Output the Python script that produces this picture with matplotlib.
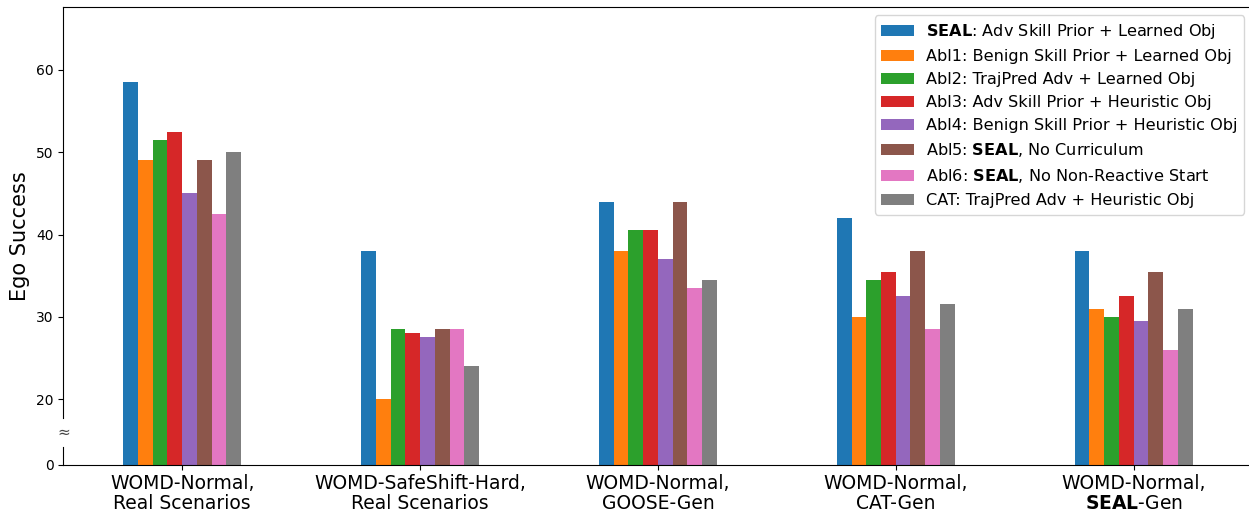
import numpy as np
import matplotlib
matplotlib.use('Agg')
import matplotlib.pyplot as plt

groups = ['WOMD-Normal,\nReal Scenarios',
          'WOMD-SafeShift-Hard,\nReal Scenarios',
          'WOMD-Normal,\nGOOSE-Gen',
          'WOMD-Normal,\nCAT-Gen',
          'WOMD-Normal,\n$\\mathbf{SEAL}$-Gen']

methods = ['$\\mathbf{SEAL}$: Adv Skill Prior + Learned Obj',
           'Abl1: Benign Skill Prior + Learned Obj',
           'Abl2: TrajPred Adv + Learned Obj',
           'Abl3: Adv Skill Prior + Heuristic Obj',
           'Abl4: Benign Skill Prior + Heuristic Obj',
           'Abl5: $\\mathbf{SEAL}$, No Curriculum',
           'Abl6: $\\mathbf{SEAL}$, No Non-Reactive Start',
           'CAT: TrajPred Adv + Heuristic Obj']

seal = [58.5, 38, 44, 42, 38]
abl1 = [49, 20, 38, 30, 31]
abl2 = [51.5, 28.5, 40.5, 34.5, 30]
abl3 = [52.5, 28, 40.5, 35.5, 32.5]
abl4 = [45, 27.5, 37, 32.5, 29.5]
abl5 = [49, 28.5, 44, 38, 35.5]
abl6 = [42.5, 28.5, 33.5, 28.5, 26]
cat = [50, 24, 34.5, 31.5, 31]
series = [seal, abl1, abl2, abl3, abl4, abl5, abl6, cat]

# the axis is broken: 0..20 is squeezed into the strip below 20
base = 12
ytick_vals = [12, 20, 30, 40, 50, 60]
ytick_labels = ['0', '20', '30', '40', '50', '60']

fig = plt.figure(figsize=(12.49, 5.12), dpi=100)
ax = fig.add_axes([63.3/1249, 47/512, 1189.2/1249, 457.7/512])

x = np.arange(len(groups))
w = 0.062
for i, vals in enumerate(series):
    h = np.array(vals) - base
    ax.bar(x + (i - 3.5)*w, h, w, bottom=base, color='C%d' % i, label=methods[i])

ax.set_xlim(-0.5, 4.5)
ax.set_ylim(base, 67.6)
ax.set_xticks(x)
ax.set_xticklabels(groups, fontsize=13.5, linespacing=1.05)
ax.tick_params(axis='x', pad=3)
ax.set_yticks(ytick_vals)
ax.set_yticklabels(ytick_labels, fontsize=10)
ax.set_ylabel('Ego Success', fontsize=15)

ax.spines['left'].set_bounds(17.7, 67.6)
ax.plot([0, 0], [base, 14.2], color='black', lw=0.8,
        transform=ax.get_yaxis_transform(), clip_on=False)
ax.text(0, 16, '≈', transform=ax.get_yaxis_transform(), ha='center', va='center',
        fontsize=11, color='#444444')

ax.legend(loc='upper right', fontsize=11.6)

plt.savefig('out.png', dpi=100)
